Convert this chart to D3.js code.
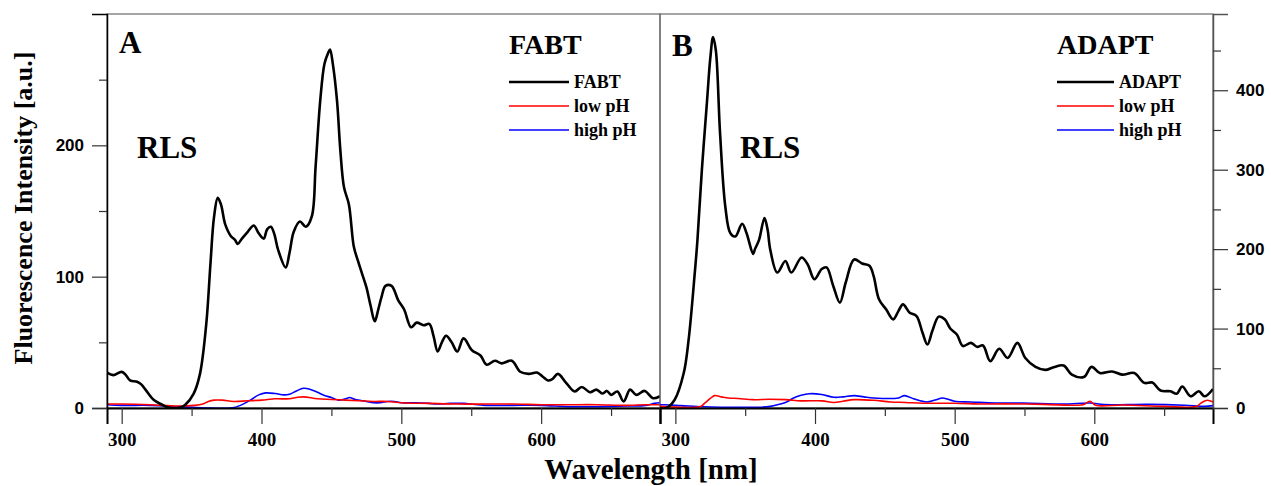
<!DOCTYPE html>
<html>
<head>
<meta charset="utf-8">
<script src="https://cdn.jsdelivr.net/npm/d3@7"></script>
<style>
  body { margin: 0; background: #fff; }
  svg { display: block; }
</style>
</head>
<body>
<svg id="chart"></svg>
<script>
'use strict'

// ---- data (wavelength nm, intensity a.u.) ----
var fabtBlack = [[289.5,27],[294,25],[300,27.5],[303,25],[306,21],[311,20],[314,18],[317,14],[323,6],[329,2.5],[333,0.5],[342,0.3],[345.5,2.5],[351.5,11],[356,26],[360.5,64],[363.5,110],[366,145],[368.7,160],[371,155],[374,140],[378,131],[381,128],[383,125],[386,129],[390,134],[394.5,139],[398,133],[401.6,129],[404,136],[406.7,138],[409,133],[412,120],[417.3,107],[420,118],[423,134],[427.4,142],[431.7,138],[436,146],[438.7,184],[442,234],[445,262],[447.5,270],[449,273],[451,262],[454,234],[456.4,196],[459,168],[462.5,155],[466,123],[469,112],[472,102],[475,92],[478,78],[481,66],[483.5,75],[485.7,84],[488.7,93],[493,93],[497.8,82],[502,75],[507,61.5],[511,65],[515.9,63],[520,64],[523,55],[526,43],[529,50],[532,55],[536,50],[540,43],[544.5,53],[550.5,44],[556.6,40],[561,33],[567,36],[571.6,34],[579,36],[585,27.6],[591,26],[597,27],[601,24],[604.8,21],[608,22],[612,26],[618,19],[624,12.6],[629,16],[635,12],[639.5,14],[644,11],[647,13],[650,10],[654.5,12.6],[659,5],[663.6,14],[668,10],[674,13],[680,7.5],[685,9]];

var fabtLow = [[289.5,3],[300,3],[320,2.5],[340,1.5],[352,2],[358,3],[362,5],[366,6],[372,6],[380,5],[390,5.5],[400,6],[410,7],[420,7],[425,8],[430,8.5],[440,7],[450,6.5],[460,6],[470,5.5],[480,5],[490,5],[500,4],[520,3.5],[540,3],[560,3],[580,3],[600,2.5],[620,2.5],[640,2.5],[660,2],[675,2.5],[685,2.5]];

var fabtHigh = [[289.5,2.5],[300,2],[320,2],[340,1],[350,0.5],[360,0],[378,0],[385,2],[392,6],[398,10],[403,11.5],[410,11],[416,10],[420,10.5],[425,13],[430,15],[434,14.5],[440,12],[445,9.5],[450,8],[455,6],[460,7],[463,8],[467,6.5],[475,5],[480,4],[485,4],[490,5],[495,5],[500,4],[510,4],[520,3.5],[525,3],[535,3.5],[545,3.5],[550,3],[560,2],[580,2],[600,2],[620,1],[640,1],[660,1.5],[675,2],[681,3.5],[685,4]];

var adaptBlack = [[289,0],[293.6,0],[299.4,10],[306,44],[309.5,86],[313.9,170],[315.8,211],[319,300],[322.7,387],[325,440],[327,467],[329,450],[332,346],[335.8,253],[339.4,220],[343,216],[347.8,232],[351,220],[355.7,194],[357,200],[360,212],[363.8,239],[366,225],[368,199],[373,170.5],[378.8,185],[383,170.5],[390.4,189.5],[394.7,181],[399.6,162],[404.8,175],[408.3,177],[413,154],[417.8,132.6],[422,158],[428,187],[433.7,182],[439,179],[442,166],[445.8,137],[451,124],[456,111.6],[459.7,122],[463,130.5],[467.8,120],[472.7,115.8],[477,94.7],[480.5,80],[484,96.8],[488.6,115],[492.9,111.6],[497,99.8],[501.6,92.6],[505.9,78],[511.7,82],[516,77],[520.3,78.7],[525.5,59],[531.9,74.5],[538,63],[544.9,82],[550.6,63],[557.9,51.8],[565,48],[570.9,51.4],[578,53.5],[583.9,42],[592.5,39],[598,51.8],[604,44],[612.7,46],[620,42],[628.6,44],[635.8,31.6],[641.6,32],[647.4,22],[654.6,21],[659,18],[663,27],[669,14.7],[674.8,21],[679,14.7],[685,24]];

var adaptLow = [[289,2],[318,2],[321,6],[325,12],[328,15.6],[333,14],[338,12.6],[345,12],[355.7,10.5],[367,11],[379,10.5],[390,9],[405,9],[413.5,7],[420,8.5],[428,10.5],[442,9.7],[454,7.6],[465,7],[477,6],[500,6],[520,5],[535,5.2],[563.6,4.6],[586.7,3.4],[592,4],[596.9,8.4],[601,3.4],[621,3.8],[650,2],[673,2],[677,7],[681,9.7],[685,7.6]];

var adaptHigh = [[289,4],[292,4],[303.8,3],[320,1.5],[332.6,1],[361.5,1],[368,2],[373,4],[380,8],[384.6,12.6],[390,16],[396,18],[404.8,17],[413.5,13.5],[420,14],[428,15.6],[435,14],[442,12.6],[459.7,12.6],[464,15.6],[471,11.4],[480,7.6],[486,10],[491.5,12.6],[500,8.4],[511.7,7.6],[529,6.3],[549,6.3],[578,5],[597,6.3],[607,4.2],[638.7,4.6],[664.7,3.4],[679,2],[685,3]];

var xTicksMajor = [300, 400, 500, 600];
var xTicksMinor = [350, 450, 550, 650];
var yTicksLeft = [0, 100, 200];
var yTicksLeftMinor = [50, 150, 250];
var yTicksRight = [0, 100, 200, 300, 400];
var yTicksRightMinor = [50, 150, 250, 350, 450];
var legendLabelsA = ['FABT', 'low pH', 'high pH'];
var legendLabelsB = ['ADAPT', 'low pH', 'high pH'];
var seriesColors = ['#000000', '#ff0000', '#0000ff'];

var WIDTH = 1271, HEIGHT = 486;
var TOP = 14, BOTTOM = 408;
var SERIF = '"Liberation Serif", "Times New Roman", serif';
var SANS = '"Liberation Sans", Arial, sans-serif';

var svg = d3.select('#chart').attr('width', WIDTH).attr('height', HEIGHT);

function drawPanel(opt) {
	var x = d3.scaleLinear().domain(opt.xDomain).range([opt.left, opt.right]);
	var y = d3.scaleLinear().domain(opt.yDomain).range([BOTTOM, TOP]);

	var g = svg.append('g');

	g.append('clipPath').attr('id', opt.id + '-clip')
		.append('rect')
		.attr('x', opt.left).attr('y', TOP)
		.attr('width', opt.right - opt.left).attr('height', BOTTOM - TOP);

	// frame
	g.append('rect')
		.attr('x', opt.left).attr('y', TOP)
		.attr('width', opt.right - opt.left).attr('height', BOTTOM - TOP)
		.style('fill', 'none').style('stroke', '#6a6a6a').style('stroke-width', 1.2);

	var line = d3.line()
		.x(function (d) { return x(d[0]); })
		.y(function (d) { return y(d[1]); })
		.curve(d3.curveCatmullRom.alpha(0.5));

	var curves = g.append('g').attr('clip-path', 'url(#' + opt.id + '-clip)');
	[opt.high, opt.low, opt.black].forEach(function (s, i) {
		curves.append('path')
			.attr('d', line(s))
			.style('fill', 'none')
			.style('stroke', seriesColors[2 - i])
			.style('stroke-width', i === 2 ? 2.6 : 1.6)
			.style('stroke-linejoin', 'round');
	});

	// x axis
	var xAxis = g.append('g').attr('transform', 'translate(0,' + BOTTOM + ')')
		.call(d3.axisBottom(x).tickValues(xTicksMajor).tickSize(16).tickPadding(9).tickFormat(d3.format('d')));
	xAxis.select('.domain').style('stroke', '#000').style('stroke-width', 2);
	xAxis.selectAll('.tick line').style('stroke', '#333').style('stroke-width', 1.2);
	xAxis.selectAll('.tick text')
		.style('font-family', SERIF).style('font-weight', 'bold').style('font-size', '19px').style('fill', '#000');
	g.append('g').attr('transform', 'translate(0,' + BOTTOM + ')')
		.call(d3.axisBottom(x).tickValues(xTicksMinor).tickSize(8).tickFormat(''))
		.call(function (a) { a.select('.domain').remove(); a.selectAll('line').style('stroke', '#333').style('stroke-width', 1.2); });

	// y axis
	var axisFn = opt.yRight ? d3.axisRight : d3.axisLeft;
	var yPos = opt.yRight ? opt.right : opt.left;
	var yAxis = g.append('g').attr('transform', 'translate(' + yPos + ',0)')
		.call(axisFn(y).tickValues(opt.yTicks).tickSize(15).tickPadding(8));
	yAxis.select('.domain').style('stroke', opt.yRight ? '#555' : '#000').style('stroke-width', 1.5);
	yAxis.selectAll('.tick line').style('stroke', '#333').style('stroke-width', 1.2);
	yAxis.selectAll('.tick text')
		.style('font-family', SANS).style('font-weight', 'bold').style('font-size', '17px').style('fill', '#000');
	g.append('g').attr('transform', 'translate(' + yPos + ',0)')
		.call(axisFn(y).tickValues(opt.yTicksMinor).tickSize(8).tickFormat(''))
		.call(function (a) { a.select('.domain').remove(); a.selectAll('line').style('stroke', '#333').style('stroke-width', 1.2); });

	// panel letter, RLS, title
	g.append('text').attr('x', opt.letterX).attr('y', opt.letterY).text(opt.letter)
		.style('font-family', SERIF).style('font-weight', 'bold').style('font-size', '31px');
	g.append('text').attr('x', opt.rlsX).attr('y', 158).text('RLS')
		.style('font-family', SERIF).style('font-weight', 'bold').style('font-size', '31px');
	g.append('text').attr('x', opt.legX).attr('y', 54).text(opt.legTitle)
		.style('font-family', SERIF).style('font-weight', 'bold').style('font-size', '28px');

	// legend
	var leg = g.append('g').selectAll('g').data(opt.legLabels).enter().append('g')
		.attr('transform', function (d, i) { return 'translate(' + opt.legX + ',' + (82 + i * 24) + ')'; });
	leg.append('line')
		.attr('x1', 0).attr('x2', opt.legLen).attr('y1', 0).attr('y2', 0)
		.style('stroke', function (d, i) { return seriesColors[i]; })
		.style('stroke-width', function (d, i) { return i === 0 ? 2.6 : 1.6; });
	leg.append('text')
		.attr('x', opt.legLen + 5).attr('y', 6).text(function (d) { return d; })
		.style('font-family', SERIF).style('font-weight', 'bold').style('font-size', '18px');
}

drawPanel({
	id: 'a', left: 107, right: 660, xDomain: [289.5, 685], yDomain: [0, 300],
	yTicks: yTicksLeft, yTicksMinor: yTicksLeftMinor, yRight: false,
	black: fabtBlack, low: fabtLow, high: fabtHigh,
	letter: 'A', letterX: 119, letterY: 53, rlsX: 137,
	legTitle: 'FABT', legX: 509, legLen: 60, legLabels: legendLabelsA
});

drawPanel({
	id: 'b', left: 660, right: 1213, xDomain: [289, 685], yDomain: [0, 496],
	yTicks: yTicksRight, yTicksMinor: yTicksRightMinor, yRight: true,
	black: adaptBlack, low: adaptLow, high: adaptHigh,
	letter: 'B', letterX: 672, letterY: 56, rlsX: 740,
	legTitle: 'ADAPT', legX: 1057, legLen: 57, legLabels: legendLabelsB
});

// axis titles
svg.append('text')
	.attr('transform', 'translate(32,208) rotate(-90)')
	.attr('text-anchor', 'middle')
	.text('Fluorescence Intensity [a.u.]')
	.style('font-family', SERIF).style('font-weight', 'bold').style('font-size', '26px');

svg.append('text')
	.attr('x', 651).attr('y', 479)
	.attr('text-anchor', 'middle')
	.text('Wavelength [nm]')
	.style('font-family', SERIF).style('font-weight', 'bold').style('font-size', '29px');
</script>
</body>
</html>
